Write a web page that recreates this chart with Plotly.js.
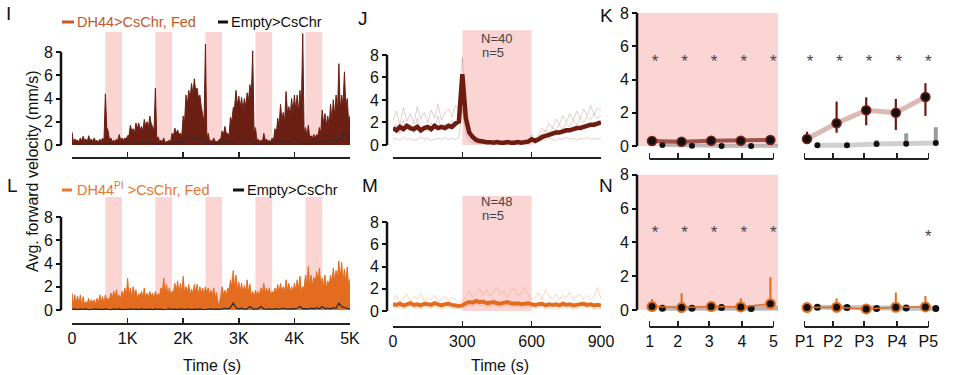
<!DOCTYPE html>
<html><head><meta charset="utf-8">
<script src="https://cdn.plot.ly/plotly-3.0.1.min.js"></script>
<style>html,body{margin:0;padding:0;background:#fff}#chart{width:975px;height:375px}</style>
</head><body><div id="chart"></div>
<script>
// ---------------- DATA ----------------
// Panels I / L : 5000 s protocol, stimulation windows
const stimStarts = [600, 1500, 2400, 3300, 4200];
const stimDur = 300;
const longStep = 50;                 // s between peak samples
const longTickVals = [0, 1000, 2000, 3000, 4000, 5000];
const longTickText = ['0', '1K', '2K', '3K', '4K', '5K'];
// DH44>CsChr, Fed : peak samples at 0,50,...,5000 and trough samples at 25,75,...,4975
const iDH44Hi = [1.1,0.5,0.4,0.6,0.75,0.5,0.8,0.5,0.6,0.4,
 0.5,0.6,4.4,1.2,0.6,0.4,0.5,0.9,0.6,0.6,
 0.8,1.7,1.4,1.9,1.9,1.6,2.2,2.0,2.5,1.6,
 4.9,0.7,0.4,0.6,0.3,0.4,1.0,1.45,1.3,1.0,
 2.5,4.3,4.7,5.3,5.7,4.9,4.3,2.6,8.7,1.0,
 0.4,0.6,0.3,0.5,1.2,1.6,1.0,2.4,3.2,4.7,
 4.2,4.1,4.0,4.5,5.2,8.1,1.5,0.5,0.4,1.0,
 0.5,0.4,0.6,1.4,2.3,3.5,2.8,4.6,3.3,4.0,
 4.3,4.3,4.7,9.6,1.5,1.7,0.8,0.9,0.9,1.5,
 3.0,2.7,2.5,3.5,3.9,4.3,7.0,4.3,6.3,4.0,
 2.5];
const iDH44Lo = [0.3,0.4,0.3,0.35,0.4,0.3,0.4,0.3,0.3,0.25,0.3,0.35,
 1.5,
 0.4,0.3,0.3,0.4,0.4,0.4,0.5,
 0.8,1.2,1.0,1.4,1.3,1.2,1.6,1.5,1.8,1.2,
 0.4,0.3,0.3,0.2,0.3,0.3,
 0.8,1.0,0.9,0.8,
 2.0,3.5,4.0,4.3,4.6,4.0,3.3,2.0,
 0.5,0.3,0.3,0.3,0.3,0.5,
 0.9,1.0,0.8,
 2.0,3.3,3.4,3.2,3.0,3.3,3.8,4.2,
 1.0,
 0.4,0.3,0.3,0.4,0.3,0.3,0.4,
 1.0,1.6,2.2,2.0,2.8,2.5,2.8,3.0,2.8,3.2,
 1.0,0.8,0.6,0.6,0.6,0.8,
 1.0,1.8,1.7,1.6,2.2,2.5,2.8,3.0,3.5,3.2,2.0];
const iEmpty = [0.1,0.05,0.15,0.1,0.05,0.1,0.2,0.1,0.05,0.1,
 0.15,0.1,0.05,0.1,0.2,0.1,0.05,0.15,0.1,0.1,
 0.2,0.1,0.15,0.3,0.1,0.2,0.15,0.25,0.1,0.2,
 0.1,0.05,0.1,0.15,0.1,0.05,0.2,0.1,0.25,0.2,
 0.3,0.5,0.6,0.4,0.7,0.5,0.6,0.4,0.3,0.1,
 0.05,0.1,0.15,0.1,0.2,0.4,0.3,0.2,0.35,0.3,
 0.5,0.4,0.3,0.5,0.4,0.2,0.1,0.05,0.1,0.15,
 0.1,0.2,0.15,0.3,0.4,0.3,0.2,0.35,0.3,0.4,
 0.5,0.3,0.35,0.2,0.1,0.15,0.1,0.2,0.15,0.3,
 0.35,0.4,0.3,0.5,0.4,0.35,0.6,0.5,1.15,0.7,
 0.4];
// DH44PI>CsChr, Fed
const lDH44Hi = [1.45,1.3,1.2,1.3,1.15,0.7,1.0,0.9,0.87,1.0,
 1.3,1.15,1.3,1.0,1.45,1.6,1.75,1.3,1.6,1.9,
 2.75,1.9,2.0,1.75,1.4,1.6,1.9,1.45,1.6,1.45,
 1.6,1.4,1.9,2.75,2.2,1.9,1.6,2.3,2.5,2.3,
 2.9,2.0,2.2,1.8,2.2,2.2,2.0,1.9,2.0,1.9,
 1.7,1.9,1.5,0.6,2.0,1.7,1.9,2.6,3.4,3.0,
 2.4,2.3,2.1,2.6,2.2,1.6,1.7,1.6,1.9,2.3,
 1.9,1.9,1.6,1.9,2.2,2.3,2.0,2.6,2.3,2.0,
 2.3,2.6,2.9,2.0,3.0,3.75,3.0,2.8,3.3,3.6,
 2.75,3.0,2.5,3.0,3.6,3.4,4.2,4.1,3.5,3.7,
 2.7];
const lDH44Lo = [0.5,0.6,0.5,0.4,0.5,0.6,0.5,0.6,0.5,0.6,0.7,0.6,
 0.8,0.9,1.0,1.1,0.9,1.0,1.2,1.1,
 1.2,1.1,1.3,1.0,1.2,1.1,1.0,1.1,1.2,1.0,
 1.1,1.2,1.5,1.4,1.2,1.3,1.5,1.6,1.4,1.5,
 1.4,1.5,1.3,1.4,1.5,1.3,1.4,1.3,1.4,1.3,
 1.2,1.0,0.5,1.1,1.3,1.2,1.6,2.0,1.9,1.7,
 1.6,1.5,1.6,1.5,1.2,1.1,1.2,1.3,1.5,1.4,
 1.3,1.2,1.4,1.5,1.5,1.6,1.6,1.7,1.5,1.6,
 1.7,1.8,1.6,1.9,2.2,2.0,2.1,2.3,2.4,2.0,
 2.0,1.9,2.1,2.4,2.5,2.8,2.7,2.5,2.3,2.0];
const lEmpty = [0.05,0.1,0.03,0.08,0.05,0.1,0.03,0.05,0.1,0.05,
 0.08,0.04,0.1,0.05,0.03,0.08,0.05,0.1,0.04,0.06,
 0.05,0.1,0.05,0.08,0.03,0.1,0.06,0.05,0.08,0.04,
 0.1,0.05,0.08,0.03,0.06,0.1,0.05,0.08,0.04,0.1,
 0.06,0.05,0.1,0.04,0.08,0.05,0.1,0.06,0.04,0.08,
 0.1,0.05,0.08,0.06,0.1,0.15,0.1,0.2,0.6,0.2,
 0.1,0.15,0.08,0.1,0.3,0.1,0.08,0.12,0.3,0.1,
 0.08,0.1,0.05,0.12,0.08,0.1,0.15,0.1,0.08,0.12,
 0.1,0.15,0.3,0.1,0.12,0.08,0.15,0.1,0.2,0.1,
 0.3,0.12,0.15,0.1,0.2,0.15,0.6,0.3,0.2,0.15,
 0.1];

// Panels J / M : 900 s single trial, 15 s samples, 300-600 s light
const trialStep = 15;
const trialStim = [300, 600];
const trialTickVals = [0, 300, 600, 900];
const jMean = [1.5,1.3,1.6,1.4,1.7,1.5,1.4,1.6,1.3,1.5,1.6,1.4,1.7,1.5,1.6,1.5,1.7,1.6,1.9,2.1,
 6.3,
 2.4,1.1,0.7,0.45,0.35,0.3,0.25,0.25,0.2,0.25,0.2,0.2,0.25,0.2,0.2,0.25,0.2,0.25,0.3,
 0.5,
 0.35,0.5,0.7,0.8,0.9,1.0,1.1,1.1,1.2,1.3,1.3,1.4,1.5,1.5,1.6,1.7,1.8,1.8,1.9,2.0];
const jTrialA = [2.2,3.0,1.8,3.3,2.1,2.8,1.9,3.4,2.3,2.9,2.0,3.1,2.4,3.6,2.2,2.9,3.2,2.5,3.5,3.3,
 7.8,
 3.0,1.2,0.6,0.4,0.3,0.35,0.3,0.25,0.3,0.3,0.25,0.3,0.35,0.3,0.25,0.3,0.3,0.35,0.4,
 0.9,
 0.5,0.9,1.5,1.2,1.9,1.5,2.3,1.8,2.6,2.0,2.8,2.2,3.0,2.4,3.2,2.6,3.5,2.7,3.3,3.0];
const jTrialB = [0.5,0.6,0.4,0.7,0.5,0.6,0.4,0.5,0.7,0.5,0.6,0.4,0.5,0.6,0.5,0.7,0.5,0.6,0.5,0.6,
 3.2,
 1.0,0.4,0.2,0.15,0.15,0.2,0.15,0.1,0.15,0.2,0.15,0.1,0.15,0.2,0.15,0.1,0.15,0.2,0.2,
 0.3,
 0.3,0.4,0.5,0.4,0.6,0.5,0.4,0.6,0.5,0.7,0.5,0.6,0.4,0.6,0.5,0.7,0.5,0.6,0.5,0.6];
const jTrialC = [1.2,1.8,1.0,2.2,1.4,1.9,1.1,2.4,1.3,1.7,1.2,2.0,1.5,2.6,1.3,1.9,1.6,2.2,1.8,2.4,
 6.0,
 2.2,0.9,0.5,0.3,0.25,0.2,0.25,0.2,0.2,0.25,0.2,0.2,0.25,0.2,0.2,0.25,0.2,0.25,0.3,
 0.6,
 0.4,0.8,1.0,1.3,1.1,1.5,1.3,1.8,1.4,1.9,1.6,2.2,1.8,2.4,2.0,2.5,2.2,2.8,2.4,2.6];
const mMean = [0.6,0.55,0.65,0.5,0.6,0.7,0.55,0.6,0.5,0.65,0.6,0.55,0.7,0.6,0.5,0.6,0.65,0.55,0.5,0.45,
 0.5,
 0.7,0.8,0.75,0.9,0.8,0.85,0.7,0.75,0.8,0.7,0.65,0.75,0.8,0.7,0.65,0.7,0.6,0.65,0.7,
 0.6,
 0.55,0.6,0.65,0.5,0.6,0.55,0.6,0.5,0.65,0.55,0.6,0.5,0.55,0.6,0.65,0.55,0.6,0.5,0.55,0.5];
const mTrialA = [1.0,1.4,0.8,1.2,1.5,0.9,1.3,1.1,1.6,0.9,1.2,1.0,1.4,0.8,1.1,1.3,0.9,1.2,1.0,0.8,
 0.9,
 1.3,1.8,1.2,1.6,2.0,1.4,1.9,1.3,1.7,2.1,1.5,1.8,1.2,1.9,2.0,1.4,1.6,2.1,1.5,
 1.0,
 1.2,1.6,1.0,1.9,1.3,1.1,1.5,1.0,1.4,1.2,1.7,1.0,1.3,1.5,1.1,1.4,1.0,1.3,2.1,1.1];
const mTrialB = [0.3,0.25,0.35,0.2,0.3,0.4,0.25,0.3,0.2,0.35,0.3,0.25,0.4,0.3,0.2,0.3,0.35,0.25,0.2,0.2,
 0.25,
 0.4,0.5,0.45,0.55,0.5,0.5,0.4,0.45,0.5,0.4,0.35,0.45,0.5,0.4,0.35,0.4,0.3,0.35,0.4,
 0.3,
 0.25,0.3,0.35,0.2,0.3,0.25,0.3,0.2,0.35,0.25,0.3,0.2,0.25,0.3,0.35,0.25,0.3,0.2,0.25,0.2];

// Panels K / N : per-period means
const periodIdx = [1, 2, 3, 4, 5];
const stimLabels = ['1', '2', '3', '4', '5'];
const postLabels = ['P1', 'P2', 'P3', 'P4', 'P5'];
const kStimDH44 = [0.3, 0.26, 0.32, 0.32, 0.36];
const kStimEmpty = [0.06, 0.02, 0.0, 0.0, 0.0];
const kPostDH44 = [0.42, 1.37, 2.15, 2.0, 2.95];
const kPostDH44ErrUp = [0.44, 1.3, 0.78, 0.83, 0.83];
const kPostDH44ErrDn = [0.25, 0.57, 0.9, 1.04, 1.14];
const kPostEmpty = [0.04, 0.04, 0.12, 0.14, 0.18];
const kPostEmptyErrUp = [0, 0, 0.24, 0.62, 0.95];
const kStimSig = [1, 1, 1, 1, 1];
const kPostSig = [1, 1, 1, 1, 1];
const nStimDH44 = [0.2, 0.14, 0.2, 0.18, 0.36];
const nStimDH44ErrUp = [0.43, 0.85, 0.33, 0.51, 1.58];
const nStimEmpty = [0.1, 0.1, 0.14, 0.08, 0.1];
const nPostDH44 = [0.14, 0.16, 0.06, 0.16, 0.18];
const nPostDH44ErrUp = [0.26, 0.53, 0, 0.87, 0.65];
const nPostEmpty = [0.16, 0.14, 0.08, 0.12, 0.08];
const nStimSig = [1, 1, 1, 1, 1];
const nPostSig = [0, 0, 0, 0, 1];
const kSigLevel = 5.0, nSigLevel = 4.5;

// ---------------- STYLE / HELPERS ----------------
const W = 975, H = 375;
const X = p => p / W, Y = p => 1 - p / H;
const FONT = 'Liberation Sans, Arial, sans-serif';
const PINK = '#fbd4d4';
const C_I = '#6b1e12', C_I_LEG = '#c5582a', C_L = '#e36c1e', C_L_LEG = '#e8762f', C_EMPTY = '#2a2d33';
const empOff = 0.35, sigOff = 0.1;
const kTickPos = [0.92, 1.87, 2.93, 4.04, 5.1];
const yTicks = [0, 2, 4, 6, 8];

function zig(hi, lo, step) {
  const x = [], y = [];
  hi.forEach((v, i) => {
    x.push(i * step); y.push(v);
    if (i < lo.length) { x.push(i * step + step / 2); y.push(lo[i]); }
  });
  return {x, y};
}
const tAt = (arr, step) => arr.map((_, i) => i * step);

const traces = [];
function line(xa, ya, x, y, color, width, fill) {
  const t = {type: 'scatter', mode: 'lines', xaxis: xa, yaxis: ya, x, y,
    line: {color, width, simplify: false}, hoverinfo: 'skip'};
  if (fill) { t.fill = 'tozeroy'; t.fillcolor = color; }
  traces.push(t);
}
// I
const iz = zig(iDH44Hi, iDH44Lo, longStep);
line('x', 'y', iz.x, iz.y, C_I, 1, true);
line('x', 'y', tAt(iEmpty, longStep), iEmpty, C_EMPTY, 1);
// L
const lz = zig(lDH44Hi, lDH44Lo, longStep);
line('x5', 'y5', lz.x, lz.y, C_L, 1, true);
line('x5', 'y5', tAt(lEmpty, longStep), lEmpty, C_EMPTY, 1.2);
// J
const jt = tAt(jMean, trialStep);
[jTrialB, jTrialC, jTrialA].forEach(tr => line('x2', 'y2', jt, tr, 'rgba(150,100,90,0.3)', 1));
line('x2', 'y2', jt, jMean, '#6e1c10', 4.5);
// M
[mTrialB, mTrialA].forEach(tr => line('x6', 'y6', jt, tr, 'rgba(240,150,90,0.4)', 1));
line('x6', 'y6', jt, mMean, C_L, 4);

// K / N point panels
function pts(xa, ya, x, y, o) {
  const t = {type: 'scatter', mode: 'lines+markers', xaxis: xa, yaxis: ya, x, y, cliponaxis: false,
    line: {color: o.lc, width: o.lw}, marker: {size: o.ms, color: '#111', line: {color: o.mlc || '#111', width: o.mlw || 0}},
    hoverinfo: 'skip'};
  if (o.eu) t.error_y = {type: 'data', symmetric: false, array: o.eu, arrayminus: o.ed || o.eu.map(() => 0),
    color: o.ec, thickness: o.et, width: 0};
  traces.push(t);
}
const empX = periodIdx.map(v => v + empOff);
const sigX = periodIdx.map(v => v + sigOff);
function sig(xa, ya, flags, level) {
  const xs = [], ys = [];
  flags.forEach((f, i) => { if (f) { xs.push(sigX[i]); ys.push(level); } });
  traces.push({type: 'scatter', mode: 'text', xaxis: xa, yaxis: ya, x: xs, y: ys, text: xs.map(() => '*'),
    textfont: {family: FONT, size: 17, color: '#444'}, cliponaxis: false, hoverinfo: 'skip'});
}
// K stim
pts('x3', 'y3', empX, kStimEmpty, {lc: 'rgba(150,140,140,0.55)', lw: 4, ms: 6});
pts('x3', 'y3', periodIdx, kStimDH44, {lc: 'rgba(125,40,30,0.75)', lw: 4, ms: 9, mlc: '#7a2015', mlw: 1.5});
sig('x3', 'y3', kStimSig, kSigLevel);
// K post
pts('x4', 'y4', empX, kPostEmpty, {lc: '#d0d0d0', lw: 5, ms: 6, eu: kPostEmptyErrUp, ec: '#9a9a9a', et: 4});
pts('x4', 'y4', periodIdx, kPostDH44, {lc: 'rgba(175,100,90,0.45)', lw: 5, ms: 9, mlc: '#7a2015', mlw: 1.5,
  eu: kPostDH44ErrUp, ed: kPostDH44ErrDn, ec: '#6b1a10', et: 2.2});
sig('x4', 'y4', kPostSig, kSigLevel);
// N stim
pts('x7', 'y7', empX, nStimEmpty, {lc: 'rgba(150,145,145,0.55)', lw: 5, ms: 7});
pts('x7', 'y7', periodIdx, nStimDH44, {lc: C_L, lw: 1.5, ms: 9, mlc: C_L, mlw: 2, eu: nStimDH44ErrUp, ec: C_L, et: 2});
sig('x7', 'y7', nStimSig, nSigLevel);
// N post
pts('x8', 'y8', empX, nPostEmpty, {lc: '#c4c4c4', lw: 5, ms: 7});
pts('x8', 'y8', periodIdx, nPostDH44, {lc: C_L, lw: 1.5, ms: 9, mlc: C_L, mlw: 2, eu: nPostDH44ErrUp, ec: C_L, et: 2});
sig('x8', 'y8', nPostSig, nSigLevel - 0.2);

// ---------------- LAYOUT ----------------
const tickfont = {family: FONT, size: 16, color: '#111'};
function xax(d0, d1, range, posPy, tickvals, ticktext) {
  return {domain: [X(d0), X(d1)], range, anchor: 'free', position: Y(posPy), ticks: 'inside', ticklen: 6,
    tickwidth: 1.5, tickcolor: '#222', tickvals, ticktext: ticktext || tickvals.map(String),
    showticklabels: !!ticktext, tickfont, ticklabelstandoff: 3, showgrid: false, zeroline: false, showline: false, fixedrange: true};
}
function yax(b, t, range, posPx) {
  return {domain: [Y(b), Y(t)], range, anchor: 'free', position: X(posPx), ticks: 'outside', ticklen: 5,
    tickwidth: 2, tickcolor: '#111', tickvals: yTicks, tickfont, showgrid: false, zeroline: false, showline: false, fixedrange: true};
}
function yhid(b, t, range, anchor) {
  return {domain: [Y(b), Y(t)], range, anchor, visible: false, fixedrange: true};
}
const shapes = [];
const hline = (xref, x0, x1, py) => shapes.push({type: 'line', xref, yref: 'paper', x0, x1, y0: Y(py), y1: Y(py), line: {color: '#222', width: 2}});
const vline = (yref, px) => shapes.push({type: 'line', xref: 'paper', yref, x0: X(px), x1: X(px), y0: 0, y1: 8, line: {color: '#111', width: 2.5}});
const pink = (xref, yref, x0, x1, y0, y1) => shapes.push({type: 'rect', xref, yref, x0, x1, y0, y1, fillcolor: PINK, line: {width: 0}, layer: 'below'});

stimStarts.forEach(s => { pink('x', 'y', s, s + stimDur, 0, 9.72); pink('x5', 'y5', s, s + stimDur, 0, 9.72); });
pink('x2', 'y2', trialStim[0], trialStim[1], 0, 10.2);
pink('x6', 'y6', trialStim[0], trialStim[1], 0, 10.34);
pink('x3 domain', 'y3', 0, 1, 0, 8);
pink('x7 domain', 'y7', 0, 1, 0, 8);

hline('x', 0, 5000, 158); hline('x5', 0, 5000, 324);
hline('x2', 0, 900, 158); hline('x6', 0, 900, 327);
hline('x3', kTickPos[0], kTickPos[4], 159); hline('x4', kTickPos[0], kTickPos[4], 159);
hline('x7', kTickPos[0], kTickPos[4], 327); hline('x8', kTickPos[0], kTickPos[4], 327);
vline('y', 61); vline('y5', 61); vline('y2', 387); vline('y6', 387); vline('y3', 637); vline('y7', 637);
// legend dashes
const dash = (x0, x1, py, color) => shapes.push({type: 'line', xref: 'paper', yref: 'paper', x0: X(x0), x1: X(x1), y0: Y(py), y1: Y(py), line: {color, width: 3}});
dash(62, 74, 22, C_I_LEG); dash(218, 228, 22, '#111');
dash(62, 72, 190, C_L_LEG); dash(233, 244, 190, '#111');

const ann = [];
const txt = (text, px, py, size, color, extra) => ann.push(Object.assign({text, x: X(px), y: Y(py), xref: 'paper', yref: 'paper',
  showarrow: false, font: {family: FONT, size, color}, xanchor: 'center', yanchor: 'middle'}, extra || {}));
txt('I', 8, 14, 19, '#111'); txt('J', 363, 19, 19, '#111'); txt('K', 606, 15, 19, '#111');
txt('L', 12, 185, 19, '#111'); txt('M', 370, 185, 19, '#111'); txt('N', 606, 185, 19, '#111');
txt('DH44>CsChr, Fed', 75, 22, 14.5, C_I_LEG, {xanchor: 'left'});
txt('Empty>CsChr', 229, 22, 14.5, '#111', {xanchor: 'left'});
txt('DH44<sup>PI</sup> >CsChr, Fed', 75, 189, 14.5, C_L_LEG, {xanchor: 'left'});
txt('Empty>CsChr', 245, 190, 14.5, '#111', {xanchor: 'left'});
txt('Avg. forward velocity (mm/s)', 33, 171, 16, '#111', {textangle: -90});
txt('Time (s)', 212, 365, 16, '#111'); txt('Time (s)', 500, 365, 16, '#111');
txt('N=40', 496, 39, 13, '#444'); txt('n=5', 493, 52, 13, '#444');
txt('N=48', 496, 202, 13, '#444'); txt('n=5', 493, 215, 13, '#444');

const layout = {
  width: W, height: H, margin: {l: 0, r: 0, t: 0, b: 0}, showlegend: false,
  paper_bgcolor: '#fff', plot_bgcolor: 'rgba(0,0,0,0)', font: {family: FONT},
  xaxis: xax(72, 350, [0, 5000], 158, longTickVals),
  yaxis: yax(148, 30, [-0.26, 9.9], 61),
  xaxis5: xax(72, 350, [0, 5000], 324, longTickVals, longTickText),
  yaxis5: yax(313, 195, [-0.26, 9.9], 61),
  xaxis2: xax(393, 601, [0, 900], 158, trialTickVals),
  yaxis2: yax(148, 28, [-0.27, 10.4], 387),
  xaxis6: xax(393, 601, [0, 900], 327, trialTickVals, trialTickVals.map(String)),
  yaxis6: yax(314, 194, [-0.27, 10.52], 387),
  xaxis3: xax(638, 778, [0.527, 5.257], 159, kTickPos),
  yaxis3: yax(150, 10, [-0.24, 8.18], 637),
  xaxis4: xax(790, 950, [0.426, 5.83], 159, kTickPos),
  yaxis4: yhid(150, 10, [-0.24, 8.18], 'x4'),
  xaxis7: xax(638, 778, [0.527, 5.257], 327, kTickPos, stimLabels),
  yaxis7: yax(314, 172, [-0.24, 8.17], 637),
  xaxis8: xax(790, 950, [0.426, 5.83], 327, kTickPos, postLabels),
  yaxis8: yhid(314, 172, [-0.24, 8.17], 'x8'),
  shapes, annotations: ann
};
Plotly.newPlot('chart', traces, layout, {staticPlot: true, displayModeBar: false});
</script></body></html>
